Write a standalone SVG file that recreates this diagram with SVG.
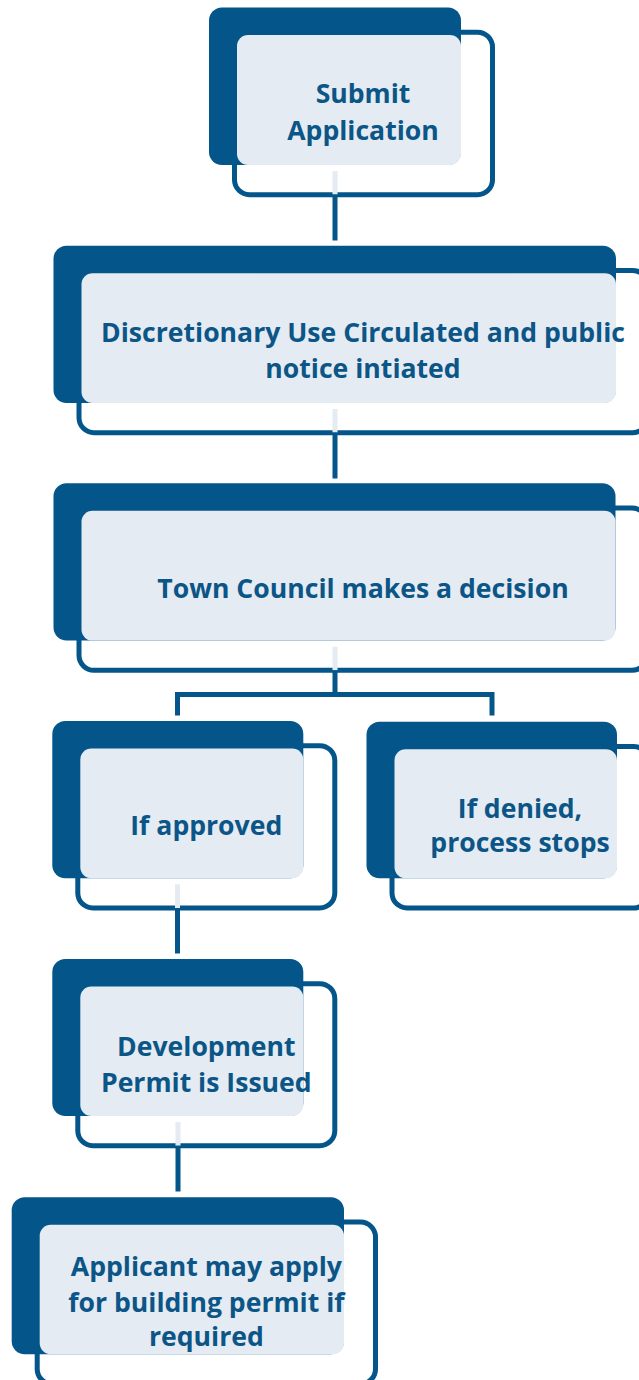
<svg xmlns="http://www.w3.org/2000/svg" width="639" height="1380" viewBox="0 0 639 1380">
<style>
.dk{fill:#03558A;}
.ol{fill:#FFFFFF;stroke:#03558A;stroke-width:5;}
.lt{fill:#E4EBF2;}
.tx{font-family:"Open Sans","Liberation Sans",sans-serif;font-weight:700;font-size:26.6px;fill:#0B5587;text-anchor:middle;}
.cn{fill:none;stroke:#03558A;stroke-width:5;}
.pl{fill:none;stroke:#E4EBF2;stroke-width:5;}
</style>
<rect width="639" height="1380" fill="#FFFFFF"/>
<g id="node-submit">
<rect class="ol" x="234.5" y="32.2" width="258" height="162.5" rx="15"/>
<rect class="dk" x="209" y="7.5" width="252" height="157.5" rx="13"/>
<rect class="lt" x="237" y="35" width="224" height="130" rx="11"/>
<text class="tx" x="363" y="103">Submit</text>
<text class="tx" x="363" y="140">Application</text>
</g>
<g id="node-discretionary">
<rect class="ol" x="79" y="270.4" width="568.5" height="162.3" rx="15"/>
<rect class="dk" x="53.5" y="245.7" width="562.5" height="157.3" rx="13"/>
<rect class="lt" x="81.5" y="273.2" width="534.5" height="129.8" rx="11"/>
<text class="tx" x="363" y="342">Discretionary Use Circulated and public</text>
<text class="tx" x="363" y="377.5">notice intiated</text>
</g>
<g id="node-council">
<rect class="ol" x="79" y="508" width="568" height="162.3" rx="15"/>
<rect class="dk" x="53.5" y="483.3" width="562" height="157.3" rx="13"/>
<rect class="lt" x="81.5" y="510.8" width="534" height="129.8" rx="11"/>
<text class="tx" x="363" y="598">Town Council makes a decision</text>
</g>
<g id="node-approved">
<rect class="ol" x="77.8" y="745.7" width="257" height="162.3" rx="15"/>
<rect class="dk" x="52.3" y="721" width="251" height="157.3" rx="13"/>
<rect class="lt" x="80.3" y="748.5" width="223" height="129.8" rx="11"/>
<text class="tx" x="206.3" y="835">If approved</text>
</g>
<g id="node-denied">
<rect class="ol" x="392" y="746.4" width="256.5" height="161.6" rx="15"/>
<rect class="dk" x="366.5" y="721.7" width="250.5" height="156.6" rx="13"/>
<rect class="lt" x="394.5" y="749.2" width="222.5" height="129.1" rx="11"/>
<text class="tx" x="520" y="818.3">If denied,</text>
<text class="tx" x="520" y="852">process stops</text>
</g>
<g id="node-permit">
<rect class="ol" x="77.8" y="983.7" width="257" height="162" rx="15"/>
<rect class="dk" x="52.3" y="959" width="251" height="157" rx="13"/>
<rect class="lt" x="80.3" y="986.5" width="223" height="129.5" rx="11"/>
<text class="tx" x="206.3" y="1056">Development</text>
<text class="tx" x="206.3" y="1091.5">Permit is Issued</text>
</g>
<g id="node-building">
<rect class="ol" x="37.2" y="1222" width="338.3" height="162" rx="15"/>
<rect class="dk" x="11.7" y="1197.3" width="332.3" height="157" rx="13"/>
<rect class="lt" x="39.7" y="1224.8" width="304.3" height="129.5" rx="11"/>
<text class="tx" x="206.4" y="1276">Applicant may apply</text>
<text class="tx" x="206.4" y="1311.5">for building permit if</text>
<text class="tx" x="206.4" y="1346">required</text>
</g>
<g id="connectors">
<path class="pl" d="M335 171 V194.5 M335 409 V432.5 M335 646.7 V670.3 M177.5 884.3 V908 M178 1122 V1145.7"/>
<path class="cn" d="M335 194.5 V240.5"/>
<path class="cn" d="M335 432.5 V478.5"/>
<path class="cn" d="M335 670.3 V694.5 M177.5 715.5 V694.5 H492 V715.5"/>
<path class="cn" d="M177.5 908 V953.5"/>
<path class="cn" d="M178 1145.7 V1191.5"/>
</g>
</svg>
